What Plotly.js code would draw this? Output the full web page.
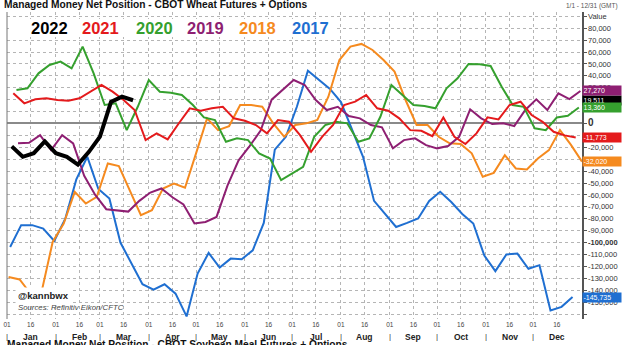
<!DOCTYPE html>
<html>
<head>
<meta charset="utf-8">
<script src="https://cdn.plot.ly/plotly-3.0.1.min.js"></script>
<style>
  html, body { margin: 0; padding: 0; background: #fff; }
  #chart { width: 624px; height: 345px; }
</style>
</head>
<body>
<div id="chart"></div>
<script>
// ---- data ----
const years = ['2022', '2021', '2020', '2019', '2018', '2017'];
const colors = ['#000000', '#e41a1c', '#35a02e', '#8e1f72', '#f58a1f', '#1f6fd1'];
const firstReport = ['2022-01-04', '2021-01-05', '2020-01-07', '2019-01-08', '2018-01-02', '2017-01-03'];

const net2022 = [-19200, -28000, -25000, -15000, -25000, -28000, -34600, -23800, -11000, 18000, 22500, 19511];

const net2021 = [25300, 16900, 20300, 21100, 19700, 19100, 21100, 26700, 32300, 26700,
  19700, 11300, -14000, -8300, -13400, 0, 12700, 10700, 12700, 14000,
  4300, 2300, -1300, -8300, 2900, 1400, -9800, -23800, -11200, -1300,
  15500, 18300, 23900, 12700, 10700, 4300, -5600, -6100, -10600, 5100,
  -11200, -17300, -8300, 5100, 3400, 15500, 18300, 7100, 1400, -7000,
  -10000, -11773];

const net2020 = [28100, 29500, 42100, 49100, 51900, 46300, 64500, 42100, 15500, 16900,
  -5600, 14000, 36500, 26700, 25800, 23900, 15500, 5100, 2900, -15400,
  -12500, -14000, -25100, -29400, -47600, -42000, -36400, -11200, -1300, 1400,
  100, -15400, -12500, 5600, 32300, 23900, 15500, 14600, 12700, 29500,
  37900, 50000, 49700, 48300, 30900, 15500, 14000, -4100, -5600, 5000,
  6500, 13360];

const net2019 = [-16700, -16200, -9800, -22400, -9800, -16700, -44000, -60000, -72000, -72800,
  -74000, -65000, -58000, -54600, -62000, -68000, -84000, -82700, -78500, -52000,
  -31000, -19000, -6000, 20000, 28000, 36500, 32300, 19700, 11300, 14000,
  6200, 4300, -1300, -3300, -20900, -14000, -12500, -18200, -20900, -19000,
  -11200, 11900, 4300, -500, 100, -2200, 11300, 20300, 11300, 25300,
  20500, 27270];

const net2018 = [-129000, -131000, -143000, -141000, -99500, -84000, -57400, -67200, -61600, -33600,
  -35800, -56000, -77000, -72800, -54600, -50400, -54000, -25100, 4300, -5600,
  -2200, 15500, 15500, 14000, 100, -11200, -1300, 100, 2900, 22500,
  53300, 64500, 66800, 61700, 53300, 43500, 19700, -1300, -1300, -11200,
  -16700, -17300, -25100, -44800, -41500, -26600, -37800, -38600, -29400, -22400,
  -5600, -18000, -32020];

const net2017 = [-103700, -85400, -85400, -88200, -98700, -80000, -47000, -28000, -55000, -63000,
  -100000, -117000, -135000, -139500, -135000, -142900, -162000, -126000, -108700, -121000,
  -113500, -114000, -106500, -83500, -22000, -11200, 14000, 44300, 36500, 29000,
  18000, -5000, -28000, -65000, -76000, -86900, -83500, -79800, -65000, -57400,
  -66000, -76000, -84000, -111000, -124000, -110000, -109300, -122000, -119000, -157000,
  -154000, -145735];

const seriesValues = [net2022, net2021, net2020, net2019, net2018, net2017];

const months = ['Jan', 'Feb', 'Mar', 'Apr', 'May', 'Jun', 'Jul', 'Aug', 'Sep', 'Oct', 'Nov', 'Dec'];
const dayTicks = ['01', '16'];
const yTickVals = [90000, 80000, 70000, 60000, 50000, 40000, 30000, 20000, 10000, 0,
  -10000, -20000, -30000, -40000, -50000, -60000, -70000, -80000, -90000, -100000,
  -110000, -120000, -130000, -140000, -150000, -160000];
// tick labels hidden under the last-value boxes in the reference
const yTicksHidden = [20000, 10000, -10000, -160000];
const yTopLabel = 'Value';
const chartTitle = 'Managed Money Net Position - CBOT Wheat Futures + Options';
const nextTitle = 'Managed Money Net Position - CBOT Soybean Meal Futures + Options';
const dateRangeLabel = '1/1 - 12/31 (GMT)';
const handle = '@kannbwx';
const source = 'Sources: Refinitiv Eikon/CFTC';

// ---- helpers ----
const baseYear = 2021; // all seasons overlaid on one Jan-Dec axis
function weeklyDates(first, n) {
  const [, m, d] = first.split('-').map(Number);
  const out = [];
  for (let i = 0; i < n; i++) {
    out.push(new Date(Date.UTC(baseYear, m - 1, d + 7 * i)).toISOString().slice(0, 10));
  }
  return out;
}
const pad = n => String(n).padStart(2, '0');
const fmt = v => Math.round(v).toLocaleString('en-US');

// ---- traces (oldest first so 2022 sits on top) ----
const traces = [];
for (let k = years.length - 1; k >= 0; k--) {
  const vals = seriesValues[k];
  traces.push({
    type: 'scatter', mode: 'lines', name: years[k],
    x: weeklyDates(firstReport[k], vals.length), y: vals,
    line: { color: colors[k], width: k === 0 ? 4 : 2 },
    hoverinfo: 'skip'
  });
}

// ---- axes ticks ----
const xTickVals = [], xTickText = [];
months.forEach((mName, i) => {
  dayTicks.forEach(d => {
    xTickVals.push(`${baseYear}-${pad(i + 1)}-${d}`);
    xTickText.push(d);
  });
});
const yTickText = yTickVals.map(v => {
  if (v === 90000) return yTopLabel;
  if (yTicksHidden.includes(v)) return '';
  if (v === 0) return '<b><span style="font-size:10px">0</span></b>';
  if (v === -100000) return '<b>' + fmt(v) + '</b>';
  return fmt(v);
});

const FONT = 'Arial, "Liberation Sans", sans-serif';
const annotations = [];

// legend years
const legendX = [49, 100, 154, 205, 257.5, 310];
years.forEach((y, k) => {
  annotations.push({
    xref: 'paper', yref: 'paper', x: (legendX[k] - 7) / 575, y: (319 - 28) / 307,
    xanchor: 'center', yanchor: 'middle', showarrow: false,
    text: '<b>' + y + '</b>', font: { family: FONT, size: 16.5, color: colors[k] }
  });
});

// month labels and separators
months.forEach((mName, i) => {
  annotations.push({
    xref: 'x', yref: 'paper', x: `${baseYear}-${pad(i + 1)}-16`, y: (319 - 337) / 307,
    xanchor: 'center', yanchor: 'middle', showarrow: false,
    text: '<b>' + mName + '</b>', font: { family: FONT, size: 8.5, color: '#222' }
  });
  annotations.push({
    xref: 'x', yref: 'paper', x: `${baseYear}-${pad(i + 1)}-01`, y: (319 - 336) / 307,
    xanchor: 'center', yanchor: 'middle', showarrow: false,
    text: '|', font: { family: FONT, size: 8, color: '#333' }
  });
});

// last-value boxes on the right axis
years.forEach((y, k) => {
  const vals = seriesValues[k];
  const last = vals[vals.length - 1];
  annotations.push({
    xref: 'paper', yref: 'y', x: 1, y: last, xanchor: 'left', yanchor: 'middle',
    showarrow: false, text: fmt(last), align: 'left',
    bgcolor: colors[k], width: 37, height: 8, borderpad: 0.5,
    font: { family: FONT, size: 7, color: '#ffffff' }
  });
});

// texts
annotations.push({
  xref: 'paper', yref: 'paper', x: (15 - 7) / 575, y: (319 - 295) / 307,
  xanchor: 'left', yanchor: 'middle', showarrow: false, bgcolor: '#ffffff', borderpad: 2,
  text: '<b>' + handle + '</b>', font: { family: FONT, size: 9.5, color: '#222' }
});
annotations.push({
  xref: 'paper', yref: 'paper', x: (16 - 7) / 575, y: (319 - 307) / 307,
  xanchor: 'left', yanchor: 'middle', showarrow: false,
  text: '<i>' + source + '</i>', font: { family: FONT, size: 7.8, color: '#444' }
});
annotations.push({
  xref: 'paper', yref: 'paper', x: (2 - 7) / 575, y: (319 - 5) / 307,
  xanchor: 'left', yanchor: 'middle', showarrow: false,
  text: '<b>' + chartTitle + '</b>', font: { family: FONT, size: 10.2, color: '#111' }
});
annotations.push({
  xref: 'paper', yref: 'paper', x: (5 - 7) / 575, y: (319 - 344) / 307,
  xanchor: 'left', yanchor: 'middle', showarrow: false,
  text: '<b>' + nextTitle + '</b>', font: { family: FONT, size: 10.2, color: '#111' }
});
annotations.push({
  xref: 'paper', yref: 'paper', x: (620 - 7) / 575, y: (319 - 6) / 307,
  xanchor: 'right', yanchor: 'middle', showarrow: false,
  text: dateRangeLabel, font: { family: FONT, size: 6.5, color: '#555' }
});

const shapes = [
  // white panel behind the year legend
  { type: 'rect', xref: 'paper', yref: 'paper', x0: 2 / 575, x1: (335 - 7) / 575,
    y0: (319 - 37) / 307, y1: (319 - 19) / 307, fillcolor: '#ffffff', line: { width: 0 }, layer: 'above' },
  // left frame line
  { type: 'line', xref: 'paper', yref: 'paper', x0: 0, x1: 0, y0: 0, y1: 1,
    line: { color: '#777', width: 1 }, layer: 'above' }
];

const layout = {
  width: 624, height: 345,
  margin: { l: 7, r: 42, t: 12, b: 26, pad: 0 },
  paper_bgcolor: '#ffffff', plot_bgcolor: '#ffffff',
  showlegend: false,
  font: { family: FONT, color: '#222' },
  xaxis: {
    type: 'date', range: [`${baseYear}-01-01`, `${baseYear + 1}-01-01`],
    tickmode: 'array', tickvals: xTickVals, ticktext: xTickText,
    tickfont: { family: FONT, size: 6.5, color: '#444' },
    showgrid: true, gridcolor: '#b5b5b5', griddash: 'dot', gridwidth: 1,
    ticks: '', showline: false, zeroline: false, fixedrange: true
  },
  yaxis: {
    side: 'right', range: [-164200, 93600],
    tickmode: 'array', tickvals: yTickVals, ticktext: yTickText,
    tickfont: { family: FONT, size: 7.5, color: '#333' },
    ticks: 'outside', ticklen: 3, tickcolor: '#555',
    showline: true, linecolor: '#555', linewidth: 1.5,
    showgrid: true, gridcolor: '#b5b5b5', griddash: 'dot', gridwidth: 1,
    zeroline: true, zerolinecolor: '#8a8a8a', zerolinewidth: 2, fixedrange: true
  },
  shapes: shapes,
  annotations: annotations
};

Plotly.newPlot('chart', traces, layout, { staticPlot: true, displayModeBar: false });
</script>
</body>
</html>
